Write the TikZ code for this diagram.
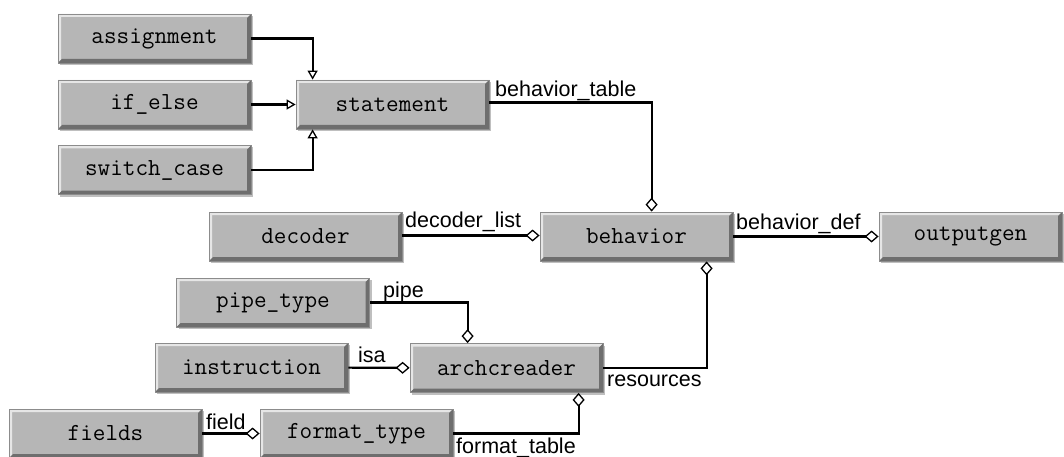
\documentclass[tikz,border=0pt]{standalone}
\usepackage{fontspec}
\newfontfamily\lblfont{Liberation Sans}
\usetikzlibrary{arrows.meta,shadows}
\definecolor{boxfill}{HTML}{B6B6B6}
\definecolor{boxlight}{HTML}{E6E6E6}
\definecolor{boxdark}{HTML}{6E6E6E}
\definecolor{boxline}{HTML}{8C8C8C}
\tikzset{
  cls/.style={draw=boxline, line width=0.8pt, fill=boxfill,
    minimum width=193pt, minimum height=49pt, inner sep=0pt,
    font=\ttfamily\fontsize{24.5}{26}\selectfont,
    drop shadow={shadow xshift=2pt, shadow yshift=-2pt, opacity=0.25, fill=black},
    path picture={
      \fill[boxlight] (path picture bounding box.south west)
        -- (path picture bounding box.north west)
        -- (path picture bounding box.north east)
        -- ([shift={(-3pt,-3pt)}]path picture bounding box.north east)
        -- ([shift={(3pt,-3pt)}]path picture bounding box.north west)
        -- ([shift={(3pt,3pt)}]path picture bounding box.south west) -- cycle;
      \fill[boxdark] (path picture bounding box.south west)
        -- (path picture bounding box.south east)
        -- (path picture bounding box.north east)
        -- ([shift={(-4pt,-4pt)}]path picture bounding box.north east)
        -- ([shift={(-4pt,4pt)}]path picture bounding box.south east)
        -- ([shift={(4pt,4pt)}]path picture bounding box.south west) -- cycle;
    }},
  conn/.style={draw=black, line width=2.1pt},
  inh/.style={conn, -{Triangle[open, length=9pt, width=10pt, line width=1.3pt]}},
  agg/.style={conn, -{Diamond[fill=white, length=14pt, width=12pt, line width=1.3pt]}},
  lbl/.style={font=\lblfont\fontsize{21.5}{23}\selectfont, inner sep=0pt, anchor=base west}
}
\begin{document}
\begin{tikzpicture}[x=1pt,y=-1pt]
  \useasboundingbox (0,0) rectangle (1064,457);
  \clip (0,0) rectangle (1064,457);

  % class boxes
  \node[cls] (assignment)  at (154.5,38.5)  {assignment};
  \node[cls] (ifelse)      at (154.5,104.5) {if\_else};
  \node[cls] (switchcase)  at (154.5,170)   {switch\_case};
  \node[cls] (statement)   at (392.5,104.5) {statement};
  \node[cls] (decoder)     at (305.5,236.5) {decoder};
  \node[cls] (behavior)    at (636.5,236.5) {behavior};
  \node[cls, minimum width=183pt] (outputgen) at (970.5,236.5) {outputgen};
  \node[cls] (pipetype)    at (273,302.5)   {pipe\_type};
  \node[cls] (instruction) at (251.5,367.5) {instruction};
  \node[cls] (archcreader) at (506.5,368)   {archcreader};
  \node[cls] (fields)      at (105.5,433.5) {fields};
  \node[cls] (formattype)  at (356.5,433.5) {format\_type};

  % generalisations
  \draw[inh] (assignment.east) -| ([xshift=17pt]statement.north west);
  \draw[inh] (ifelse) -- (statement);
  \draw[inh] (switchcase.east) -| ([xshift=17pt]statement.south west);

  % aggregations
  \draw[agg] ([yshift=2pt]statement.east) -| ([xshift=112pt]behavior.north west);
  \draw[agg] ([yshift=1pt]decoder.east) -- ([yshift=1pt]behavior.west);
  \draw[agg] (behavior) -- (outputgen);
  \draw[agg] (pipetype.east) -| ([xshift=58pt]archcreader.north west);
  \draw[agg] (instruction) -- (archcreader);
  \draw[agg] (archcreader.east) -| ([xshift=167pt]behavior.south west);
  \draw[agg] (formattype.east) -| ([xshift=169pt]archcreader.south west);
  \draw[agg] (fields) -- (formattype);

  % role names
  \node[lbl] (lbehtab) at (495,97)  {behavior\_table};
  \node[lbl] (ldeclst) at (405,227) {decoder\_list};
  \node[lbl] (lbehdef) at (736,229) {behavior\_def};
  \node[lbl] (lpipe)   at (383,297) {pipe};
  \node[lbl] (lisa)    at (358,362) {isa};
  \node[lbl] (lres)    at (607,386) {resources};
  \node[lbl] (lfmt)    at (456,453) {format\_table};
  \node[lbl] (lfield)  at (206,429) {field};
\end{tikzpicture}
\end{document}
